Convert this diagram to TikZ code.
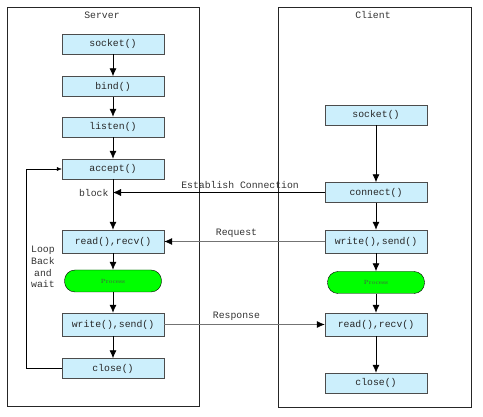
\documentclass[tikz,border=0pt]{standalone}
\usepackage{fontspec}
\setmonofont{Liberation Mono}
\usetikzlibrary{arrows.meta, positioning, shapes}

\tikzset{
    call/.style={draw=black!70, fill=cyan!20, minimum width=102pt, minimum height=20pt, inner sep=0pt, font=\ttfamily\fontsize{9.8}{11}\selectfont, text=black!85},
    tall/.style={call, minimum height=23pt},
    proc/.style={draw=black, fill=green, rounded corners=10.5pt, minimum width=97pt, minimum height=22pt, inner sep=0pt, text=black!70, font=\rmfamily\fontsize{6}{7}\selectfont},
    flow/.style={-{Latex[length=8pt,width=7pt]}, thick},
    msg/.style={-{Latex[length=8pt,width=7pt,black]}, draw=black!55, thick},
    lbl/.style={font=\ttfamily\fontsize{9.8}{11.7}\selectfont, text=black!80}
}

\begin{document}
\begin{tikzpicture}[x=1pt, y=-1pt]
    \useasboundingbox (0,0) rectangle (483,417);
    % Frames
    \draw[black!85] (7,7) rectangle (199,406);
    \draw[black!85] (278,7) rectangle (471,407);
    \node[lbl] (srvtitle) at (102,15) {Server};
    \node[lbl] (clititle) at (373,15) {Client};

    % Server side
    \node[call] (s_socket) at (113,44) {socket()};
    \node[call] (s_bind) at (113,86.5) {bind()};
    \node[call] (s_listen) at (113,127) {listen()};
    \node[call] (s_accept) at (113,169) {accept()};
    \node[tall] (s_read) at (113,241.5) {read(),recv()};
    \node[proc] (s_proc) at (113,281) {Process};
    \node[tall] (s_write) at (113,324.5) {write(),send()};
    \node[call] (s_close) at (113,368.5) {close()};

    % Client side
    \node[call] (c_socket) at (376,115) {socket()};
    \node[call] (c_connect) at (376,192.5) {connect()};
    \node[tall] (c_write) at (376,241.5) {write(),send()};
    \node[proc] (c_proc) at (376,282.5) {Process};
    \node[tall] (c_read) at (376,324.5) {read(),recv()};
    \node[call] (c_close) at (376,383) {close()};

    % Server flow
    \draw[flow] (s_socket) -- (s_bind);
    \draw[flow] (s_bind) -- (s_listen);
    \draw[flow] (s_listen) -- (s_accept);
    \draw[flow] (s_accept) -- (s_read);
    \draw[flow] (s_read) -- (s_proc);
    \draw[flow] (s_proc) -- (s_write);
    \draw[flow] (s_write) -- (s_close);
    \draw[-{Latex[length=5pt,width=4pt]}] (s_close.west) -- ++(-36,0) |- (s_accept.west);
    \node[lbl, align=center] (loop) at (43,267) {Loop\\Back\\and\\wait};

    % Client flow
    \draw[flow] (c_socket) -- (c_connect);
    \draw[flow] (c_connect) -- (c_write);
    \draw[flow] (c_write) -- (c_proc);
    \draw[flow] (c_proc) -- (c_read);
    \draw[flow] (c_read) -- (c_close);

    % Messages
    \coordinate (blk) at (s_accept |- c_connect);
    \node[lbl, left=1pt of blk] (blocktxt) {block};
    \draw[flow, thin] (c_connect.west) -- (blk)
        node[lbl, pos=0.4, above=0pt] {Establish Connection};
    \draw[msg] (c_write.west) -- (s_read.east)
        node[lbl, pos=0.55, above=0pt] {Request};
    \draw[msg] (s_write.east) -- (c_read.west)
        node[lbl, pos=0.45, above=0pt] {Response};
\end{tikzpicture}
\end{document}
